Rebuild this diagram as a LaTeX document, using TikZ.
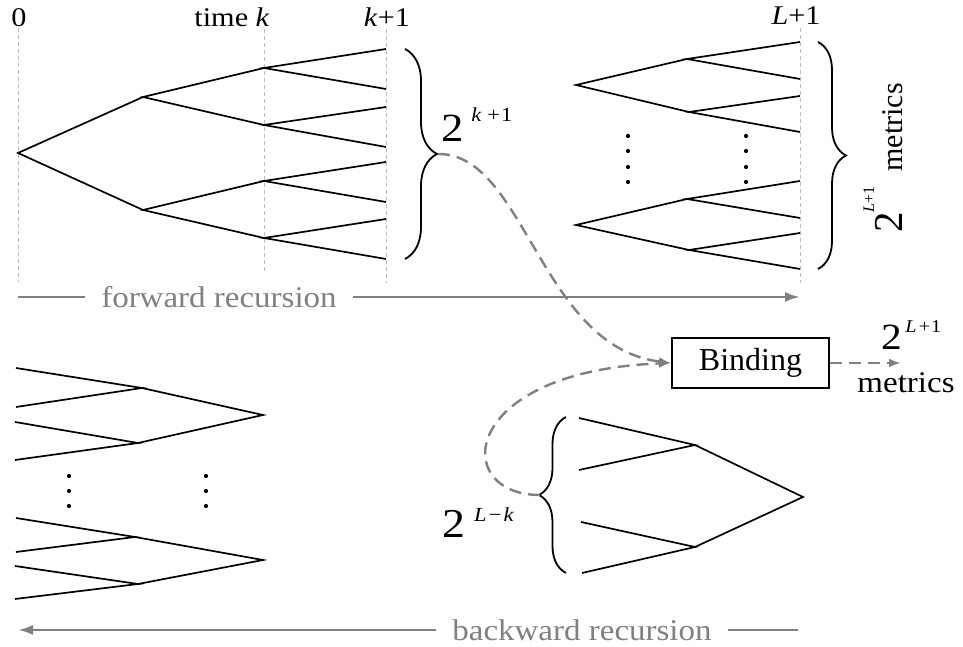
\documentclass[tikz,border=0pt]{standalone}
\usepackage{fontspec}
\setmainfont{Liberation Serif}
\usetikzlibrary{arrows.meta,calc,positioning,decorations.pathreplacing}
\definecolor{TrellisInk}{HTML}{000000}
\definecolor{FlowGray}{HTML}{808080}
\definecolor{GuideGray}{HTML}{BDBDBD}
\newcommand{\fsz}[1]{\fontsize{#1}{#1}\selectfont}
\tikzset{
  every node/.style={text=TrellisInk},
  branch/.style={draw=TrellisInk, line width=1.7pt},
  timeline/.style={draw=GuideGray, line width=1pt, dash pattern=on 4pt off 3pt},
  recursion/.style={-{Latex[length=15pt,width=10pt]}, draw=FlowGray, line width=2.6pt},
  reclabel/.style={font=\fsz{30}, text=FlowGray, xscale=1.1, inner xsep=15pt, inner ysep=2pt},
  link/.style={-{Latex[length=12pt,width=9pt]}, draw=FlowGray, line width=2.4pt, dash pattern=on 12pt off 7pt},
  group/.style={decorate, decoration={brace, amplitude=#1}, draw=TrellisInk, line width=1.8pt},
  group/.default=28pt,
  ticklabel/.style={font=\fsz{27}, anchor=base, xscale=1.12, inner sep=0pt},
  count/.style={anchor=base west, inner sep=0pt, xscale=1.12},
  caption/.style={font=\fsz{30}, xscale=1.1, inner sep=0pt},
  block/.style={draw=TrellisInk, line width=2pt, minimum width=157pt, minimum height=50pt, font=\fsz{32}, inner sep=0pt},
}

\begin{document}
\begin{tikzpicture}[x=1pt,y=1pt]
  \useasboundingbox (0,0) rectangle (963,647);
  % Time axis
  \node[ticklabel] (t0) at (19,620) {0};
  \node[ticklabel] (tk) at (232,620) {time \textit{k}};
  \node[ticklabel] (tk1) at (387,620) {\textit{k}+1};
  \node[ticklabel] (tL1) at (796,622) {\textit{L}+1};
  \draw[timeline] (18,619) -- (18,365);
  \draw[timeline] (264,618) -- (264,374);
  \draw[timeline] (386,618) -- (386,364);
  \draw[timeline] (800,619) -- (800,364);
  % Forward tree, 0 to k+1
  \coordinate (f) at (18,494);
  \coordinate (fa) at (143,550);
  \coordinate (fb) at (143,437);
  \draw[branch] (fa) -- (f) -- (fb);
  \foreach \n/\y in {faa/579, fab/522, fba/466, fbb/409}
    \coordinate (\n) at (264,\y);
  \draw[branch] (faa) -- (fa) -- (fab);
  \draw[branch] (fba) -- (fb) -- (fbb);
  \foreach \p/\ya/\yb in {faa/598/558, fab/540/500, fba/485/445, fbb/428/388} {
    \coordinate (\p1) at (386,\ya);
    \coordinate (\p2) at (386,\yb);
    \draw[branch] (\p1) -- (\p) -- (\p2);
  }
  \draw[group=32pt] (405,598) -- (405,388);
  \coordinate (fwdtip) at (438,493);
  \node[count] (pk) at (441,505) {\fsz{40}2\hspace{7pt}\raisebox{20pt}{\fsz{20}\textit{k}\hspace{5pt}+\hspace{1pt}1}};
  % Trees ending at L+1
  \foreach \g/\r/\ya/\yb/\la/\lb/\lc/\ld in {ru/562/588/535/605/568/551/515, rl/422/448/397/466/429/414/378} {
    \coordinate (\g) at (576,\r);
    \coordinate (\g a) at (687,\ya);
    \coordinate (\g b) at (689,\yb);
    \draw[branch] (\g a) -- (\g) -- (\g b);
    \draw[branch] (800,\la) -- (\g a) -- (800,\lb);
    \draw[branch] (800,\lc) -- (\g b) -- (800,\ld);
  }
  \foreach \x in {628,746}
    \foreach \y in {511,496,480,465}
      \fill (\x,\y) circle (2.1pt);
  \draw[group] (818,605) -- (818,378);
  \node[rotate=90, anchor=base west, inner sep=0pt] (allk) at (902,414)
    {\fsz{41}2\raisebox{28pt}{\fsz{16}\textit{L}+1}\hspace{15pt}\fsz{30}metrics};
  % Forward recursion
  \coordinate (fwdstart) at (18,350);
  \coordinate (fwdend) at (800,350);
  \node[reclabel] (fwd) at (219,350) {forward recursion};
  \draw[recursion, -] (fwdstart) -- (fwd);
  \draw[recursion] (fwd) -- (fwdend);
  % Binding
  \node[block] (bind) at (750.5,284) {Binding};
  \coordinate (out) at (901,284);
  \draw[link] (bind) -- (out);
  \node[count] (pL) at (881,297) {\fsz{37}2\hspace{3pt}\raisebox{17pt}{\fsz{18}\textit{L}\hspace{2pt}+\hspace{1pt}1}};
  \node[caption, anchor=base] (outlbl) at (906,254) {metrics};
  % Backward tree, k to L+1
  \coordinate (b) at (803,150);
  \coordinate (ba) at (695,202);
  \coordinate (bb) at (695,100);
  \draw[branch] (ba) -- (b) -- (bb);
  \draw[branch] (579,229) -- (ba) -- (579,177);
  \draw[branch] (581,125) -- (bb) -- (582,74);
  \draw[group=27pt] (566,74) -- (566,230);
  \coordinate (bwdtip) at (540,152);
  \node[count] (pLk) at (442,109) {\fsz{41}2\hspace{8pt}\raisebox{16pt}{\fsz{20}\textit{L}\hspace{2pt}−\hspace{2pt}\textit{k}}};
  % Links into Binding
  \draw[link] (fwdtip) .. controls (525,494) and (540,300) .. (bind.west);
  \draw[link] (bwdtip) .. controls (450,152) and (458,276) .. (bind.west);
  % Backward trees at the left
  \foreach \g/\r/\xa/\ya/\xb/\yb/\la/\lb/\lc/\ld in {bu/232/142/259/138/204/279/240/225/187, bl/87/135/110/138/63/129/95/81/48} {
    \coordinate (\g) at (263,\r);
    \coordinate (\g a) at (\xa,\ya);
    \coordinate (\g b) at (\xb,\yb);
    \draw[branch] (\g a) -- (\g) -- (\g b);
    \draw[branch] (16,\la) -- (\g a) -- (16,\lb);
    \draw[branch] (15,\lc) -- (\g b) -- (15,\ld);
  }
  \foreach \x in {69,206}
    \foreach \y in {171,156,141}
      \fill (\x,\y) circle (2.1pt);
  % Backward recursion
  \coordinate (bwdstart) at (798,17);
  \coordinate (bwdend) at (18,17);
  \node[reclabel] (bwd) at (582,17) {backward recursion};
  \draw[recursion, -] (bwdstart) -- (bwd);
  \draw[recursion] (bwd) -- (bwdend);
\end{tikzpicture}
\end{document}
